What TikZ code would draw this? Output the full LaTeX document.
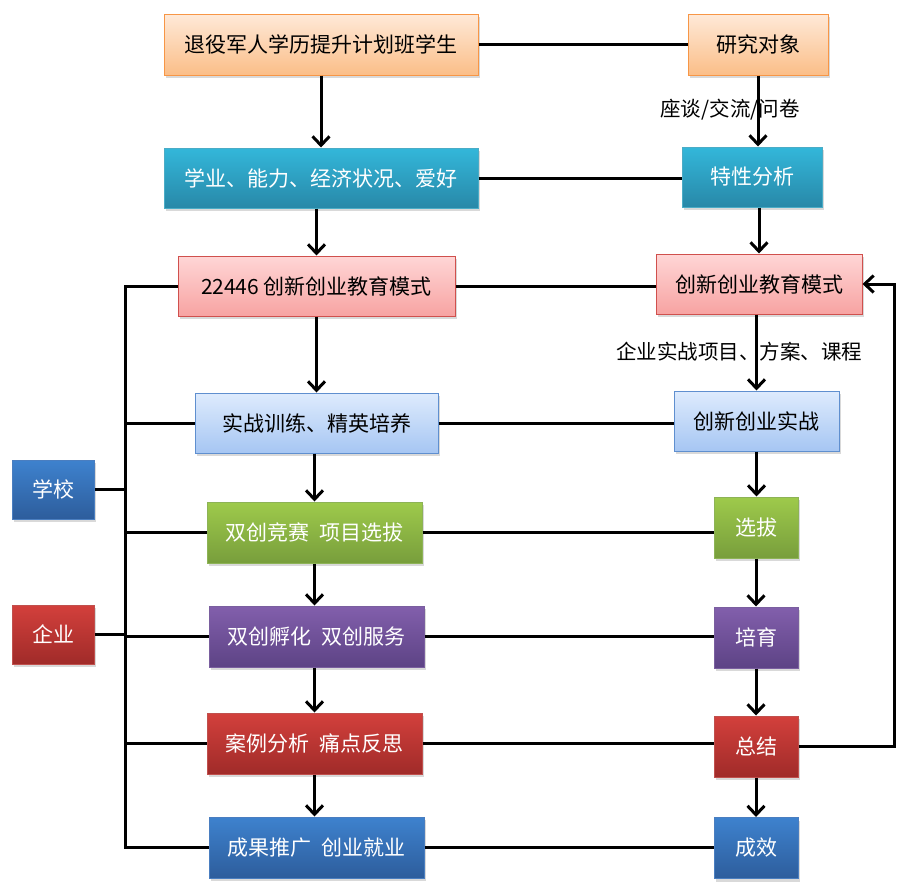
\documentclass[tikz,border=0pt]{standalone}
\usepackage{fontspec}
\setmainfont{Noto Sans CJK SC}
\usetikzlibrary{arrows.meta,shadows,calc}
\definecolor{orT}{HTML}{FEE9D8}\definecolor{orB}{HTML}{FBBE88}\definecolor{orD}{HTML}{F79646}
\definecolor{teT}{HTML}{33B7DA}\definecolor{teB}{HTML}{2888A8}\definecolor{teD}{HTML}{4BACC6}
\definecolor{piT}{HTML}{FFD6D6}\definecolor{piB}{HTML}{F7A3A2}\definecolor{piD}{HTML}{D0504D}
\definecolor{lbT}{HTML}{DEEBFD}\definecolor{lbB}{HTML}{A6C6F3}\definecolor{lbD}{HTML}{5F8FCF}
\definecolor{grT}{HTML}{9ECA4B}\definecolor{grB}{HTML}{789E3C}\definecolor{grD}{HTML}{8DB356}
\definecolor{puT}{HTML}{825FAC}\definecolor{puB}{HTML}{5D4385}\definecolor{puD}{HTML}{7A5F9F}
\definecolor{reT}{HTML}{D3403C}\definecolor{reB}{HTML}{A02B29}\definecolor{reD}{HTML}{C0504D}
\definecolor{blT}{HTML}{3E82CE}\definecolor{blB}{HTML}{2D5D9C}\definecolor{blD}{HTML}{4A7EC0}
\tikzset{
  x=1pt,y=-1pt,
  box/.style={rectangle,inner sep=0pt,line width=1pt,
    font=\fontsize{21}{25}\selectfont,
    drop shadow={opacity=0.3,shadow xshift=2pt,shadow yshift=-3pt}},
  orbox/.style={box,draw=orD,top color=orT,bottom color=orB,text=black},
  tebox/.style={box,draw=teD,top color=teT,bottom color=teB,text=white},
  pibox/.style={box,draw=piD,top color=piT,bottom color=piB,text=black},
  lbbox/.style={box,draw=lbD,top color=lbT,bottom color=lbB,text=black},
  grbox/.style={box,draw=grD,top color=grT,bottom color=grB,text=white},
  pubox/.style={box,draw=puD,top color=puT,bottom color=puB,text=white},
  rebox/.style={box,draw=reD,top color=reT,bottom color=reB,text=white},
  blbox/.style={box,draw=blD,top color=blT,bottom color=blB,text=white},
  conn/.style={line width=3pt,black},
  arr/.style={conn,-{Straight Barb[length=9pt,width=17pt,line width=3pt]}},
  lbl/.style={font=\fontsize{20.5}{24}\selectfont,text=black}
}
\begin{document}
\begin{tikzpicture}
\useasboundingbox (0,0) rectangle (900,894);
% left column
\node[orbox,minimum width=314,minimum height=61] (A1) at (321,44.5) {退役军人学历提升计划班学生};
\node[tebox,minimum width=314,minimum height=60] (A2) at (321,178) {学业、能力、经济状况、爱好};
\node[pibox,minimum width=277,minimum height=60] (A3) at (316.5,286) {22446 创新创业教育模式};
\node[lbbox,minimum width=243,minimum height=60] (A4) at (316.5,423) {实战训练、精英培养};
\node[grbox,minimum width=215,minimum height=61] (A5) at (314.5,532.5) {双创竞赛\enspace 项目选拔};
\node[pubox,minimum width=215,minimum height=61] (A6) at (316.5,636.5) {双创孵化\enspace 双创服务};
\node[rebox,minimum width=215,minimum height=61] (A7) at (314.5,743.5) {案例分析\enspace 痛点反思};
\node[blbox,minimum width=215,minimum height=61] (A8) at (316.5,847.5) {成果推广\enspace 创业就业};
% right column
\node[orbox,minimum width=140,minimum height=61] (B1) at (758,44.5) {研究对象};
\node[tebox,minimum width=140,minimum height=60] (B2) at (752,177) {特性分析};
\node[pibox,minimum width=206,minimum height=60] (B3) at (759,284) {创新创业教育模式};
\node[lbbox,minimum width=165,minimum height=60] (B4) at (756.5,421) {创新创业实战};
\node[grbox,minimum width=84,minimum height=61] (B5) at (756,527.5) {选拔};
\node[pubox,minimum width=84,minimum height=61] (B6) at (756,637.5) {培育};
\node[rebox,minimum width=84,minimum height=61] (B7) at (756,746.5) {总结};
\node[blbox,minimum width=84,minimum height=61] (B8) at (756,848) {成效};
% side boxes
\node[blbox,minimum width=82,minimum height=59] (S1) at (53,489.5) {学校};
\node[rebox,minimum width=82,minimum height=59] (S2) at (53,634.5) {企业};
% trunk
\coordinate (T1) at (125,286);
\coordinate (T2) at (125,847.5);
\draw[conn,line cap=rect] (T1) -- (T2);
\foreach \n in {A3,A4,A5,A6,A7,A8} {\draw[conn] (\n.west) -- (\n.west -| T1);}
\draw[conn] (S1.east) -- (S1.east -| T1);
\draw[conn] (S2.east) -- (S2.east -| T1);
% horizontal links left-right
\draw[conn] (A1.east) -- (A1.east -| B1.west);
\draw[conn] (A2.east) -- (A2.east -| B2.west);
\draw[conn] (A3.east) -- (A3.east -| B3.west);
\draw[conn] (A4.east) -- (A4.east -| B4.west);
\draw[conn] (A5.east) -- (A5.east -| B5.west);
\draw[conn] (A6.east) -- (A6.east -| B6.west);
\draw[conn] (A7.east) -- (A7.east -| B7.west);
\draw[conn] (A8.east) -- (A8.east -| B8.west);
% vertical arrows left
\draw[arr] (A1.south) -- (A1.south |- A2.north);
\draw[arr] (A2.south -| A3.north) -- (A3.north);
\draw[arr] (A3.south) -- (A4.north);
\draw[arr] (A4.south -| A5.north) -- (A5.north);
\draw[arr] (A5.south) -- (A5.south |- A6.north);
\draw[arr] (A6.south -| A7.north) -- (A7.north);
\draw[arr] (A7.south) -- (A7.south |- A8.north);
% vertical arrows right
\draw[arr] (B1.south) -- (B1.south |- B2.north);
\draw[arr] (B2.south -| B3.north) -- (B3.north);
\draw[arr] (B3.south -| B4.north) -- (B4.north);
\draw[arr] (B4.south) -- (B4.south |- B5.north);
\draw[arr] (B5.south) -- (B6.north);
\draw[arr] (B6.south) -- (B7.north);
\draw[arr] (B7.south) -- (B8.north);
% feedback
\coordinate (F) at (894,0);
\draw[arr] (B7.east) -- (B7.east -| F) |- (B3.east);
% labels
\node[lbl] (L1) at (730,110) {座谈/交流/问卷};
\node[lbl] (L2) at (739,352) {企业实战项目、方案、课程};
\end{tikzpicture}
\end{document}
